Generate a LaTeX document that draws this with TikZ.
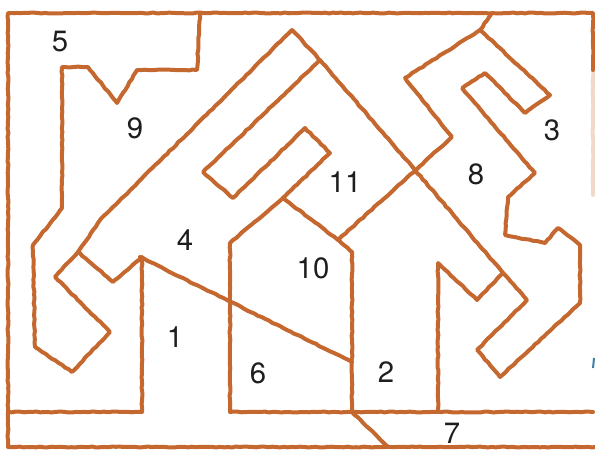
\documentclass[tikz,border=0pt]{standalone}
\usepackage{fontspec}
\setmainfont{TeX Gyre Heros}
\usepackage{tikz}
\usetikzlibrary{decorations.pathmorphing}
\definecolor{kiremit}{HTML}{C4682F}
\definecolor{koyuGri}{HTML}{1E1E1E}
\definecolor{lekeMavi}{HTML}{3A7FA8}
\begin{document}
\begin{tikzpicture}[x=0.75pt,y=-0.75pt,
  sinir/.style={kiremit,line width=3pt,line join=round,line cap=round,
    decorate,decoration={random steps,segment length=3pt,amplitude=0.35pt}},
  etiket/.style={koyuGri,font=\fontsize{22}{26}\selectfont,inner sep=0pt}]
\useasboundingbox (0,0) rectangle (595,449);
% dis cerceve
\draw[sinir] (593,70)--(593,13)--(8,13)--(8,447)--(595,447);
\draw[sinir,opacity=0.25] (593,70)--(593,195);
\draw[sinir] (8,412)--(142,412)--(142,257)--(113,282)--(78,252);
\draw[sinir] (593,412)--(230,412)--(230,243)--(283,198)--(330,153)--(305,128)--(233,198)--(203,172)--(320,60)--(292,30)--(100,220)--(78,252)--(55,277)--(110,332)--(72,372)--(35,347)--(33,245)--(62,208)--(62,67)--(88,67)--(117,103)--(137,70)--(197,70)--(200,13);
\draw[sinir] (320,60)--(415,170)--(503,273)--(527,300)--(477,350)--(500,377)--(580,303)--(580,245)--(558,228)--(545,243)--(505,235)--(508,197)--(535,173)--(462,88)--(485,73)--(525,113)--(550,95)--(480,30)--(492,13);
\draw[sinir] (480,30)--(405,78)--(452,137)--(338,240)--(352,252)--(352,412)--(388,447);
\draw[sinir] (283,198)--(338,240);
\draw[sinir] (140,257)--(352,362);
\draw[sinir] (503,273)--(477,300)--(438,263)--(438,412);
\draw[lekeMavi,line width=1.5pt] (594,358)--(593,368);
% bolge numaralari
\node[etiket] (b1) at (175,337) {1};
\node[etiket] (b2) at (386,372) {2};
\node[etiket] (b3) at (552,130) {3};
\node[etiket] (b4) at (185,240) {4};
\node[etiket] (b5) at (60,42) {5};
\node[etiket] (b6) at (258,373) {6};
\node[etiket] (b7) at (452,433) {7};
\node[etiket] (b8) at (476,174) {8};
\node[etiket] (b9) at (135,128) {9};
\node[etiket] (b10) at (313,268) {10};
\node[etiket] (b11) at (345,182) {11};
\end{tikzpicture}
\end{document}
